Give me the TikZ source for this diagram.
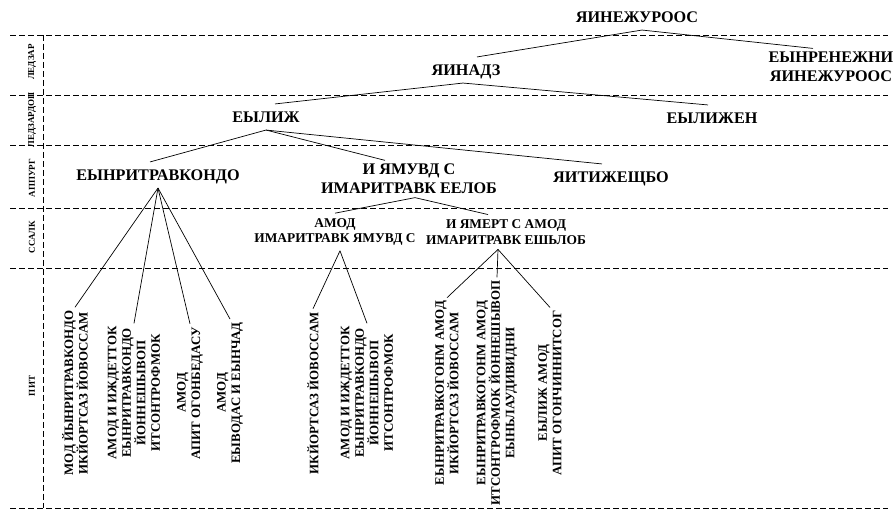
\documentclass[tikz,border=0pt]{standalone}
\usepackage{fontspec}
\setmainfont{Liberation Serif}
\begin{document}
\begin{tikzpicture}[x=1pt,y=-1pt,
  lvl/.style={font=\fontsize{16.2}{19}\selectfont\bfseries,align=center,inner xsep=2pt,inner ysep=7.5pt,text height=10.7pt,text depth=0pt},
  two/.style={font=\fontsize{16.2}{19}\selectfont\bfseries,align=center,inner xsep=2pt,inner ysep=3.5pt},
  sub/.style={font=\fontsize{13.4}{15.5}\selectfont\bfseries,align=center,inner xsep=2pt,inner ysep=5pt},
  leaf/.style={font=\fontsize{12.9}{14.5}\selectfont\bfseries,align=center,rotate=90,inner sep=3pt},
  band/.style={font=\fontsize{9}{10}\selectfont\bfseries,rotate=90,inner sep=1pt},
  sep/.style={dash pattern=on 6pt off 3pt,line width=0.8pt},
  link/.style={line width=0.7pt}]
\useasboundingbox (0,0) rectangle (895,510);
\draw[sep] (10,35) -- (888,35);
\draw[sep] (10,95) -- (888,95);
\draw[sep] (10,145) -- (888,145);
\draw[sep] (10,208) -- (888,208);
\draw[sep] (10,268) -- (888,268);
\draw[sep] (10,508) -- (888,508);
\draw[sep] (43,35) -- (43,508);
\node[band] (b1) at (32,62) {ЛЕДЗАР};
\node[band] (b2) at (32,120) {ЛЕДЗАРДОП};
\node[band] (b3) at (32,178) {АППУРГ};
\node[band] (b4) at (32,237) {ССАЛК};
\node[band] (b5) at (32,386) {ПИТ};
\node[lvl] (soor) at (637,17) {ЯИНЕЖУРООС};
\node[two] (inzh) at (831,67) {ЕЫНРЕНЕЖНИ\\ЯИНЕЖУРООС};
\node[lvl] (zdan) at (466,70) {ЯИНАДЗ};
\node[lvl] (zhil) at (266,117) {ЕЫЛИЖ};
\node[lvl] (nezh) at (712,118) {ЕЫЛИЖЕН};
\node[lvl] (odno) at (158,175) {ЕЫНРИТРАВКОНДО};
\node[two] (mnog) at (409,179) {И ЯМУВД С\\ИМАРИТРАВК ЕЕЛОБ};
\node[lvl] (obsh) at (611,177) {ЯИТИЖЕЩБО};
\node[sub] (dvuh) at (335,232) {АМОД\\ИМАРИТРАВК ЯМУВД С};
\node[sub] (treh) at (506,232) {И ЯМЕРТ С АМОД\\ИМАРИТРАВК ЕШЬЛОБ};
\node[leaf] (l1) at (75,393) {МОД ЙЫНРИТРАВКОНДО\\ИКЙОРТСАЗ ЙОВОССАМ};
\node[leaf] (l2) at (134,393) {АМОД И ИЖДЕТТОК\\ЕЫНРИТРАВКОНДО\\ЙОННЕШЫВОП\\ИТСОНТРОФМОК};
\node[leaf] (l3) at (190,393) {АМОД\\АПИТ ОГОНБЕДАСУ};
\node[leaf] (l4) at (230,393) {АМОД\\ЕЫВОДАС И ЕЫНЧАД};
\node[leaf] (l5) at (313,393) {ИКЙОРТСАЗ ЙОВОССАМ};
\node[leaf] (l6) at (367,393) {АМОД И ИЖДЕТТОК\\ЕЫНРИТРАВКОНДО\\ЙОННЕШЫВОП\\ИТСОНТРОФМОК};
\node[leaf] (l7) at (447,393) {ЕЫНРИТРАВКОГОНМ АМОД\\ИКЙОРТСАЗ ЙОВОССАМ};
\node[leaf] (l8) at (497,393) {ЕЫНРИТРАВКОГОНМ АМОД\\ИТСОНТРОФМОК ЙОННЕШЫВОП\\ЕЫНЬЛАУДИВИДНИ};
\node[leaf] (l9) at (550,393) {ЕЫЛИЖ АМОД\\АПИТ ОГОНЧИННИТСОГ};
\draw[link] ([xshift=5pt]soor.south) -- ([xshift=11pt]zdan.north);
\draw[link] ([xshift=5pt]soor.south) -- ([xshift=-18pt]inzh.north);
\draw[link] ([xshift=-3pt]zdan.south) -- ([xshift=9pt]zhil.north);
\draw[link] ([xshift=-3pt]zdan.south) -- ([xshift=-4pt]nezh.north);
\draw[link] (zhil.south) -- ([xshift=-8pt]odno.north);
\draw[link] (zhil.south) -- ([xshift=-24pt]mnog.north);
\draw[link] (zhil.south) -- ([xshift=-9pt]obsh.north);
\draw[link] (odno.south) -- (l1.east);
\draw[link] (odno.south) -- (l2.east);
\draw[link] (odno.south) -- (l3.east);
\draw[link] (odno.south) -- (l4.east);
\draw[link] ([xshift=6pt]mnog.south) -- (dvuh.north);
\draw[link] ([xshift=6pt]mnog.south) -- ([xshift=-18pt]treh.north);
\draw[link] ([xshift=5pt]dvuh.south) -- (l5.east);
\draw[link] ([xshift=5pt]dvuh.south) -- (l6.east);
\draw[link] ([xshift=-8pt]treh.south) -- (l7.east);
\draw[link] ([xshift=-8pt]treh.south) -- (l8.east);
\draw[link] ([xshift=-8pt]treh.south) -- (l9.east);
\end{tikzpicture}
\end{document}
